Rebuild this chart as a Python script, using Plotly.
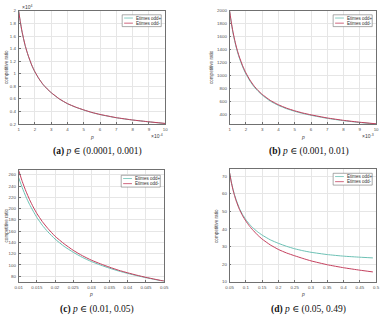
import plotly.graph_objects as go

# ---------------- data ----------------
# (a) p in units of 1e-4, ratio in units of 1e4
pa = [1, 1.1, 1.2, 1.3, 1.4, 1.5, 1.6, 1.8, 2, 2.25, 2.5, 2.75, 3, 3.5, 4, 4.5, 5, 5.5, 6, 7, 8, 9, 10]
a_minus = [2.0, 1.83, 1.68, 1.56, 1.45, 1.36, 1.28, 1.14, 1.03, 0.92, 0.83, 0.76, 0.70, 0.60, 0.525,
           0.47, 0.425, 0.385, 0.353, 0.302, 0.265, 0.236, 0.21]
a_plus = [1.995, 1.825, 1.676, 1.556, 1.446, 1.357, 1.277, 1.137, 1.027, 0.918, 0.828, 0.758, 0.698,
          0.598, 0.523, 0.468, 0.423, 0.383, 0.351, 0.300, 0.264, 0.235, 0.209]

# (b) p in units of 1e-3
pb = [1, 1.1, 1.2, 1.3, 1.4, 1.5, 1.6, 1.8, 2, 2.25, 2.5, 2.75, 3, 3.5, 4, 4.5, 5, 5.5, 6, 7, 8, 9, 10]
b_minus = [2000, 1830, 1685, 1565, 1460, 1370, 1290, 1155, 1045, 935, 845, 775, 715, 622, 555,
           503, 462, 428, 400, 352, 315, 286, 262]
b_plus = [1992, 1818, 1670, 1548, 1443, 1352, 1272, 1138, 1029, 920, 831, 762, 703, 611, 545,
          494, 454, 421, 393, 346, 310, 282, 259]

# (c)
pc = [0.01, 0.011, 0.012, 0.013, 0.014, 0.015, 0.0165, 0.018, 0.02, 0.0225, 0.025, 0.0275, 0.03,
      0.0325, 0.035, 0.0375, 0.04, 0.0425, 0.045, 0.0475, 0.05]
c_minus = [268, 248, 231, 216, 203, 191.5, 177, 165, 151, 137.5, 126, 116.5, 108.5, 102, 96, 90.6,
           86, 81.8, 78, 74.6, 71.3]
c_plus = [255, 237, 221, 207.5, 195.5, 184.5, 170.5, 159, 146, 133, 122.5, 113.5, 106, 99.8, 94.2,
          89.2, 84.9, 81, 77.4, 74.1, 71]

# (d)
pd_ = [0.05, 0.055, 0.06, 0.065, 0.07, 0.08, 0.09, 0.1, 0.11, 0.12, 0.135, 0.15, 0.175, 0.2, 0.225,
       0.25, 0.275, 0.3, 0.35, 0.4, 0.45, 0.49]
d_plus = [72, 67, 63, 59.6, 56.7, 51.8, 48.2, 45.3, 42.9, 40.9, 38.5, 36.5, 33.8, 31.8, 30.1, 28.7,
          27.6, 26.7, 25.4, 24.5, 23.9, 23.5]
d_minus = [72, 66.8, 62.6, 59.1, 56.1, 51.2, 47.5, 44.5, 41.9, 39.7, 36.7, 34.2, 30.9, 28.3, 26.3,
           24.7, 23.2, 21.8, 19.6, 17.9, 16.5, 15.5]

series_names = ["Etimes odd+", "Etimes odd-"]
captions = ["<b>(a)</b> <i>p</i> ∈ (0.0001, 0.001)",
            "<b>(b)</b> <i>p</i> ∈ (0.001, 0.01)",
            "<b>(c)</b> <i>p</i> ∈ (0.01, 0.05)",
            "<b>(d)</b> <i>p</i> ∈ (0.05, 0.49)"]

# ---------------- layout constants ----------------
W, H = 386, 321
TEAL = "#6cc0b4"
RED = "#c4405e"

def px_x(x):
    return x / W

def px_y(y):
    return 1 - y / H

# plot boxes in pixels: (left, right, top, bottom)
boxes = [(15, 165, 9, 124), (231, 381, 9, 124), (15, 164, 171, 284), (231, 381, 170, 284)]
ylabel_x = [0, 210, 0, 215]   # left edge of rotated y label

panels = [
    dict(x=pa, yp=a_plus, ym=a_minus, xr=[1, 10], yr=[0.2, 2.0],
         xt=list(range(1, 11)), xtt=[str(v) for v in range(1, 11)],
         yt=[0.2, 0.4, 0.6, 0.8, 1.0, 1.2, 1.4, 1.6, 1.8, 2.0],
         ytt=["0.2", "0.4", "0.6", "0.8", "1", "1.2", "1.4", "1.6", "1.8", "2"]),
    dict(x=pb, yp=b_plus, ym=b_minus, xr=[1, 10], yr=[258, 2000],
         xt=list(range(1, 11)), xtt=[str(v) for v in range(1, 11)],
         yt=[400, 600, 800, 1000, 1200, 1400, 1600, 1800, 2000],
         ytt=["400", "600", "800", "1000", "1200", "1400", "1600", "1800", "2000"]),
    dict(x=pc, yp=c_plus, ym=c_minus, xr=[0.01, 0.05], yr=[70.5, 268],
         xt=[0.01, 0.015, 0.02, 0.025, 0.03, 0.035, 0.04, 0.045, 0.05],
         xtt=["0.01", "0.015", "0.02", "0.025", "0.03", "0.035", "0.04", "0.045", "0.05"],
         yt=[80, 100, 120, 140, 160, 180, 200, 220, 240, 260],
         ytt=[str(v) for v in [80, 100, 120, 140, 160, 180, 200, 220, 240, 260]]),
    dict(x=pd_, yp=d_plus, ym=d_minus, xr=[0.05, 0.5], yr=[10, 74],
         xt=[0.05, 0.1, 0.15, 0.2, 0.25, 0.3, 0.35, 0.4, 0.45, 0.5],
         xtt=["0.05", "0.1", "0.15", "0.2", "0.25", "0.3", "0.35", "0.4", "0.45", "0.5"],
         yt=[10, 20, 30, 40, 50, 60, 70],
         ytt=[str(v) for v in [10, 20, 30, 40, 50, 60, 70]]),
]

fig = go.Figure()
layout = dict(width=W, height=H, margin=dict(l=0, r=0, t=0, b=0), autosize=False,
              paper_bgcolor="white", plot_bgcolor="white", showlegend=False,
              font=dict(family="Liberation Sans, Arial, sans-serif", size=5, color="#404040"))
annotations = []
shapes = []

tickfont = dict(family="Liberation Sans, Arial, sans-serif", size=4.4, color="#505050")

for i, (pan, box) in enumerate(zip(panels, boxes)):
    n = "" if i == 0 else str(i + 1)
    xa, ya = "x" + n, "y" + n
    l, r, t, b = box
    fig.add_trace(go.Scatter(x=pan["x"], y=pan["yp"], mode="lines", name=series_names[0],
                             line=dict(color=TEAL, width=1, shape="spline", smoothing=0.4),
                             xaxis=xa, yaxis=ya))
    fig.add_trace(go.Scatter(x=pan["x"], y=pan["ym"], mode="lines", name=series_names[1],
                             line=dict(color=RED, width=1, shape="spline", smoothing=0.4),
                             xaxis=xa, yaxis=ya))
    axcommon = dict(showgrid=True, gridcolor="#e6e6e6", gridwidth=0.6,
                    showline=True, linecolor="#707070", linewidth=0.7, mirror=True,
                    ticks="inside", ticklen=2, tickcolor="#707070", tickwidth=0.6,
                    zeroline=False, tickfont=tickfont)
    layout["xaxis" + n] = dict(domain=[px_x(l), px_x(r)], anchor=ya, range=pan["xr"],
                               tickvals=pan["xt"], ticktext=pan["xtt"], ticklabelstandoff=1, **axcommon)
    layout["yaxis" + n] = dict(domain=[px_y(b), px_y(t)], anchor=xa, range=pan["yr"],
                               tickvals=pan["yt"], ticktext=pan["ytt"], ticklabelstandoff=1, **axcommon)

    cx = (l + r) / 2
    # x label
    annotations.append(dict(x=px_x(cx), y=px_y(b + 13), xref="paper", yref="paper", text="<i>p</i>",
                            showarrow=False, font=dict(size=5, color="#404040"),
                            xanchor="center", yanchor="middle"))
    # y label
    annotations.append(dict(x=px_x(ylabel_x[i]), y=px_y((t + b) / 2), xref="paper", yref="paper",
                            text="competitive ratio", textangle=-90, showarrow=False,
                            font=dict(size=4.6, color="#404040"), xanchor="left", yanchor="middle",
                            borderpad=0, borderwidth=0))
    # caption
    annotations.append(dict(x=px_x(cx + 6), y=px_y(b + 28), xref="paper", yref="paper", text=captions[i],
                            showarrow=False, font=dict(family="Liberation Serif, DejaVu Serif, serif",
                                                       size=9.5, color="#111111"),
                            xanchor="center", yanchor="middle"))
    # legend box (manual)
    lw = 40
    lx1 = r - 4
    lx0 = lx1 - lw
    ly0 = t + 4 if i != 2 else t + 5
    ly1 = ly0 + 12
    shapes.append(dict(type="rect", xref="paper", yref="paper", x0=px_x(lx0), x1=px_x(lx1),
                       y0=px_y(ly1), y1=px_y(ly0), line=dict(color="#707070", width=0.6),
                       fillcolor="white"))
    for k, col in enumerate([TEAL, RED]):
        yy = ly0 + 3.3 + k * 5.2
        shapes.append(dict(type="line", xref="paper", yref="paper", x0=px_x(lx0 + 2), x1=px_x(lx0 + 11),
                           y0=px_y(yy), y1=px_y(yy), line=dict(color=col, width=0.8)))
        annotations.append(dict(x=px_x(lx0 + 12), y=px_y(yy), xref="paper", yref="paper",
                                text=series_names[k], showarrow=False,
                                font=dict(size=4.5, color="#303030"), xanchor="left", yanchor="middle"))

# exponent annotations
annotations.append(dict(x=px_x(16), y=px_y(5), xref="paper", yref="paper", text="×10<sup>4</sup>",
                        showarrow=False, font=dict(size=5, color="#404040"), xanchor="left", yanchor="middle"))
annotations.append(dict(x=px_x(165), y=px_y(136), xref="paper", yref="paper", text="×10<sup>-4</sup>",
                        showarrow=False, font=dict(size=5, color="#404040"), xanchor="right", yanchor="middle"))
annotations.append(dict(x=px_x(381), y=px_y(136), xref="paper", yref="paper", text="×10<sup>-3</sup>",
                        showarrow=False, font=dict(size=5, color="#404040"), xanchor="right", yanchor="middle"))

layout["annotations"] = annotations
layout["shapes"] = shapes
fig.update_layout(**layout)
fig.write_html("out.html")
